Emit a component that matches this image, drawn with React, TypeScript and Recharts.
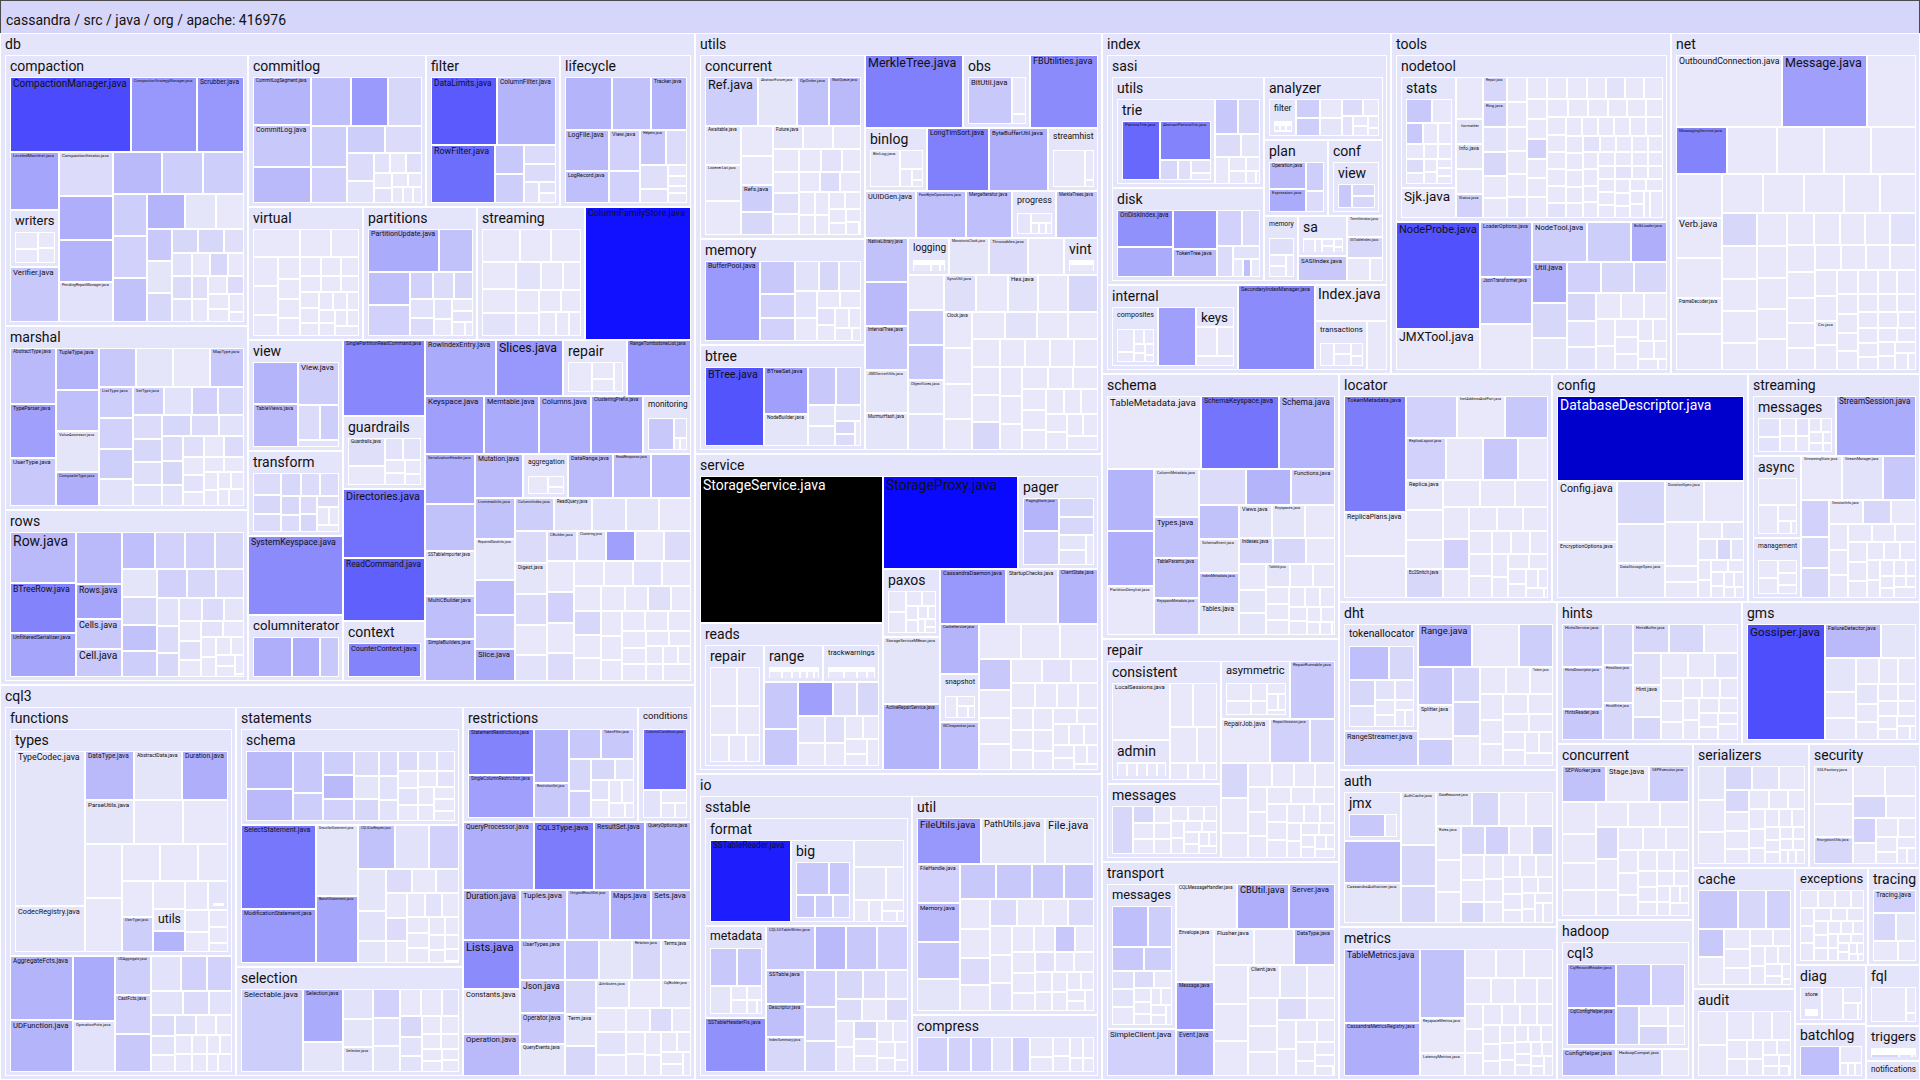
import React from "react";
import { Treemap } from "recharts";

// a file: [name, lines, heat 0..100]; a package: [name, lines, children]; a bare number: unnamed quiet file
type Node = number | [string, number, number] | [string, number, Node[]];

const totalLines = 416976;

// ---------- db ----------
const dbCompactionWriters: Node[] = [9, 7, 6, 6];
const dbCompaction: Node[] = [
  ["CompactionManager.java", 878, 54], ["CompactionStrategyManager.java", 480, 28], ["Scrubber.java", 330, 28],
  ["LeveledManifest.java", 273, 23], ["writers", 268, dbCompactionWriters], ["Verifier.java", 259, 11],
  ["CompactionIterator.java", 228, 4], ["", 228, 20], ["", 217, 18], ["PendingRepairManager.java", 217, 2],
  ["", 198, 16], ["", 168, 9], ["", 163, 9], ["", 139, 9], ["", 139, 8], ["", 139, 13], ["", 130, 18],
  ["", 104, 1], 96, ["", 78, 11], ["", 78, 1], ["", 70, 6], ["", 60, 6], ["", 60, 6], ["", 50, 3],
  ["", 45, 2], ["", 45, 4], ["", 42, 2], 40, ["", 40, 6], 38, ["", 36, 3], 35, 33, ["", 30, 4], 30, 28, 26, 24,
];
const dbCommitlog: Node[] = [
  ["CommitLogSegment.java", 253, 18], ["CommitLog.java", 220, 11], ["", 193, 16], ["", 180, 14], ["", 167, 27],
  ["", 150, 6], ["", 135, 9], ["", 119, 8], ["", 94, 9], ["", 91, 4], ["IntervalSet.java", 70, 4], ["", 51, 2],
  ["", 30, 2], 29, ["", 28, 3], 25, ["", 23, 2], 20, 18, 16, 15, 12,
];
const dbFilter: Node[] = [
  ["DataLimits.java", 429, 49], ["ColumnFilter.java", 383, 18], ["RowFilter.java", 354, 42], ["", 81, 11], ["", 81, 9],
  ["", 58, 4], ["", 55, 4], ["", 30, 2], ["", 18, 2], 17,
];
const dbLifecycle: Node[] = [
  ["", 225, 18], ["", 185, 13], ["Tracker.java", 170, 18], ["LogFile.java", 160, 16], ["LogRecord.java", 130, 14],
  ["View.java", 113, 8], ["", 90, 8], ["Helpers.java", 82, 11], ["", 65, 4], ["", 61, 3], ["", 35, 2], 19, 17, 12, 10,
];
const dbVirtual: Node[] = [123, 81, 76, 67, 67, 48, 45, 42, 40, 38, 37, 35, 33, 32, 30, 29, 28, 27, 25, 24, 23, 22, 20, 19, 18, 17, 16];
const dbPartitions: Node[] = [
  ["PartitionUpdate.java", 297, 21], ["", 138, 13], ["", 134, 14], ["", 126, 8], ["", 61, 8], ["", 56, 4], ["", 50, 6],
  ["", 45, 2], ["", 40, 4], ["", 35, 2], 30, 25, ["", 22, 2], 18, 15,
];
const dbStreaming: Node[] = [115, 93, 90, 84, 75, ["", 72, 2], ["", 63, 2], 55, 50, 48, 48, 44, 40, 38, 28, 20];
const dbView: Node[] = [["", 172, 18], ["TableViews.java", 172, 16], ["View.java", 160, 9], ["ViewBuilder.java", 70, 4], ["", 60, 9], ["", 29, 2]];
const dbTransform: Node[] = [["", 60, 4], ["", 50, 6], ["", 48, 4], ["", 45, 6], ["", 42, 4], ["", 40, 4], ["", 35, 6], ["", 32, 4], ["", 30, 4], ["", 28, 6], ["", 24, 4], 20, 18, 15];
const dbColumniterator: Node[] = [["", 150, 20], ["", 108, 20], ["", 73, 11]];
const dbGuardrails: Node[] = [["Guardrails.java", 92, 3], 60, ["", 35, 2], ["", 33, 2], 22, 21, 19, 18];
const dbContext: Node[] = [["CounterContext.java", 169, 35]];
const dbRepair: Node[] = [60, 30, 25, 20];
const dbMonitoring: Node[] = [["", 87, 11], ["", 27, 3], 8, 7];
const dbAggregation: Node[] = [30, 15, 10];
const dbMarshal: Node[] = [
  ["AbstractType.java", 220, 16], ["TypeParser.java", 212, 25], ["UserType.java", 196, 11], ["TupleType.java", 156, 18],
  ["", 152, 14], ["ValueAccessor.java", 152, 1], ["CompositeType.java", 125, 20], ["", 122, 11], ["", 122, 1], 122,
  ["MapType.java", 112, 11], ["ListType.java", 90, 9], ["", 90, 8], ["", 87, 9], ["", 78, 2], ["SetType.java", 74, 8],
  ["", 68, 2], ["", 62, 8], ["", 60, 6], ["", 60, 4], ["", 58, 6], ["", 56, 3], ["", 54, 2], ["", 52, 6], ["", 50, 4],
  ["", 48, 2], ["", 45, 4], ["", 43, 6], ["", 40, 2], ["", 38, 3], 36, ["", 34, 4], 32, ["", 30, 2], 28, 26, 24, 22, 20, 19, 18, 16, 15,
];
const dbRows: Node[] = [
  ["Row.java", 310, 16], ["BTreeRow.java", 304, 35], ["UnfilteredSerializer.java", 260, 23], ["", 220, 16],
  ["Rows.java", 150, 23], ["Cells.java", 128, 11], ["Cell.java", 119, 11], ["", 112, 14], ["", 102, 8], ["", 102, 8],
  ["", 95, 6], ["", 90, 1], ["", 90, 6], ["", 83, 13], ["", 80, 9], ["", 80, 8], ["", 78, 6], ["", 75, 4],
  ["", 56, 2], ["", 54, 4], ["", 50, 6], ["", 48, 2], ["", 46, 4], ["", 43, 1], 40, ["", 38, 3], 36, ["", 33, 2], 30, 28, 26, 24, 22, 20, 18, 16, 14,
];
const db: Node[] = [
  ["compaction", 6370, dbCompaction], ["marshal", 4320, dbMarshal], ["rows", 4060, dbRows],
  ["commitlog", 2620, dbCommitlog], ["filter", 1980, dbFilter], ["lifecycle", 1910, dbLifecycle],
  ["virtual", 1475, dbVirtual], ["partitions", 1465, dbPartitions], ["streaming", 1390, dbStreaming], ["ColumnFamilyStore.java", 1380, 74],
  ["view", 1020, dbView], ["transform", 780, dbTransform], ["SystemKeyspace.java", 730, 32], ["columniterator", 620, dbColumniterator],
  ["SinglePartitionReadCommand.java", 600, 33], ["guardrails", 580, dbGuardrails], ["Directories.java", 550, 41],
  ["ReadCommand.java", 500, 47], ["context", 490, dbContext],
  ["RowIndexEntry.java", 384, 21], ["Slices.java", 365, 28], ["repair", 347, dbRepair], ["RangeTombstoneList.java", 340, 28],
  ["Keyspace.java", 334, 25], ["Memtable.java", 311, 21], ["Columns.java", 290, 20], ["ClusteringPrefix.java", 290, 23],
  ["monitoring", 260, dbMonitoring], ["SerializationHeader.java", 240, 20],
  ["", 230, 13], ["SSTableImporter.java", 216, 1], ["MultiCBuilder.java", 206, 14], ["SimpleBuilders.java", 206, 16],
  ["Mutation.java", 206, 16], ["aggregation", 190, dbAggregation], ["DataRange.java", 190, 16], ["ReadResponse.java", 163, 14],
  ["", 163, 14], ["LivenessInfo.java", 160, 13], ["RepairedDataInfo.java", 160, 1], ["", 137, 14], ["", 130, 9],
  ["Slice.java", 130, 21], ["ColumnIndex.java", 126, 9], ["ReadQuery.java", 120, 2], ["", 110, 2], ["", 105, 1], 100,
  ["", 100, 4], ["Digest.java", 95, 1], ["", 95, 4], 92, ["", 90, 2], ["CBuilder.java", 88, 4], ["Clustering.java", 85, 2],
  ["", 85, 25], 85, ["", 82, 4], 80, ["", 80, 8], 78, ["", 75, 4], 72, 70, ["", 70, 2], 68, 65, ["", 62, 6], 60, 60, 58,
  55, ["", 55, 3], 52, 50, 48, 46, 45, 44, 42, 40, 38, 36, 34, 32, 30, 28, 26, 24, 22,
];

// ---------- cql3 ----------
const cql3TypesUtils: Node[] = [10];
const cql3TypesExceptions: Node[] = [3, 3, 3, 3];
const cql3Types: Node[] = [
  ["TypeCodec.java", 1010, 1], ["CodecRegistry.java", 295, 1], ["DataType.java", 225, 16], ["AbstractData.java", 220, 1],
  ["Duration.java", 212, 20], ["ParseUtils.java", 202, 1], 200, 190, 187, 187, 130, 130, 105, 105, ["UserType.java", 102, 9],
  84, ["utils", 65, cql3TypesUtils], ["", 62, 18], 62, ["exceptions", 54, cql3TypesExceptions], 50, 42, 30, 28, 8,
];
const cql3Functions: Node[] = [
  ["types", 4884, cql3Types], ["AggregateFcts.java", 390, 18], ["UDFunction.java", 312, 18], ["", 264, 21],
  ["OperationFcts.java", 204, 2], ["UDAggregate.java", 137, 9], ["CastFcts.java", 137, 8], ["", 130, 11], ["", 102, 2],
  ["", 88, 8], ["", 88, 8], ["", 75, 2], ["", 60, 4], ["", 50, 2], ["", 48, 4], ["", 45, 2], 42, ["", 40, 3], 38, 35, 32, 30, 28, 26, 24, 22, 20, 18,
];
const cql3StatementsSchema: Node[] = [
  ["", 150, 16], ["", 125, 16], ["", 106, 11], ["", 73, 9], ["", 64, 9], ["", 62, 16], ["", 56, 8], ["", 53, 4], ["", 48, 1],
  ["", 44, 6], ["", 40, 4], ["", 38, 2], ["", 36, 2], ["", 34, 4], ["", 32, 2], ["", 30, 2], 29, ["", 28, 2], 27, 26, ["", 25, 2], 24, 23, 22, 21, 20,
];
const cql3Statements: Node[] = [
  ["schema", 1910, cql3StatementsSchema], ["SelectStatement.java", 573, 39], ["ModificationStatement.java", 380, 27],
  ["DescribeStatement.java", 274, 1], ["BatchStatement.java", 250, 23], ["CQL3CasRequest.java", 147, 13],
  ["RequestValidations.java", 136, 2], ["", 119, 8], ["", 108, 1], ["", 76, 2], ["", 57, 1], ["", 56, 4], 52, ["", 50, 2],
  48, ["", 45, 4], 42, 40, ["", 38, 2], 35, 33, 30, 28, 26, 24, 22, 20, 18, 16, 14,
];
const cql3Selection: Node[] = [
  ["Selectable.java", 420, 9], ["Selection.java", 175, 21], ["", 95, 1], ["", 73, 2], ["", 70, 1], ["Selector.java", 65, 2],
  ["", 65, 8], ["", 62, 2], ["", 60, 1], 46, 46, ["", 40, 2], ["", 38, 6], ["", 34, 2], ["", 30, 2], 28, 26, 24, 22, 20, 18, 16, 14,
];
const cql3Restrictions: Node[] = [
  ["StatementRestrictions.java", 260, 35], ["SingleColumnRestriction.java", 240, 25], ["", 161, 18], ["RestrictionSet.java", 102, 11],
  ["", 82, 11], ["TokenFilter.java", 82, 11], ["", 60, 6], ["", 50, 8], ["", 43, 6], ["", 34, 2], ["", 31, 2], 27, 25, 23, 21, 18,
];
const cql3Conditions: Node[] = [["ColumnCondition.java", 240, 41], ["", 44, 2], 30, 19, 15];
const cql3: Node[] = [
  ["functions", 8150, cql3Functions], ["statements", 5650, cql3Statements], ["selection", 2360, cql3Selection],
  ["restrictions", 1930, cql3Restrictions], ["conditions", 570, cql3Conditions],
  ["QueryProcessor.java", 460, 20], ["CQL3Type.java", 390, 37], ["ResultSet.java", 330, 25], ["QueryOptions.java", 300, 18],
  ["Duration.java", 275, 20], ["Lists.java", 265, 32], ["Constants.java", 244, 1], ["Operation.java", 233, 16],
  ["Tuples.java", 225, 14], ["UntypedResultSet.java", 207, 13], ["Maps.java", 198, 20], ["Sets.java", 180, 16],
  ["UserTypes.java", 172, 11], ["Json.java", 144, 13], ["Operator.java", 135, 11], ["QueryEvents.java", 133, 1], ["", 130, 11],
  ["", 126, 1], ["Relation.java", 112, 6], ["Terms.java", 112, 2], ["", 100, 6], ["Term.java", 95, 1], ["", 90, 6],
  ["Attributes.java", 88, 1], 85, ["CqlBuilder.java", 80, 1], 70, ["", 65, 2], 60, 55, ["", 50, 4], 45, 40, 38, 35, 32, 30, 28, 26, 24, 22, 20,
];

// ---------- utils ----------
const utilsConcurrent: Node[] = [
  ["Ref.java", 245, 9], ["AbstractFuture.java", 178, 1], ["OpOrder.java", 149, 13], ["WaitQueue.java", 144, 16],
  ["Awaitable.java", 133, 1], ["ListenerList.java", 122, 1], 112, 89, 86, ["Refs.java", 82, 9], ["", 70, 6],
  ["Future.java", 65, 1], 65, 57, 57, 52, ["", 52, 3], 52, 47, ["", 45, 2], 43, 40, ["", 38, 4], 36, 34, 32, 30, 28, 26, 24, 22, 20, 18, 16, 14,
];
const utilsMemory: Node[] = [
  ["BufferPool.java", 447, 27], ["", 119, 11], ["", 86, 8], ["", 76, 8], ["", 74, 2], ["", 62, 6], ["", 62, 2], ["", 60, 2], 50,
  40, 35, ["", 32, 2], 30, 28, 25, 22, 20,
];
const utilsBtree: Node[] = [
  ["BTree.java", 426, 51], ["BTreeSet.java", 189, 25], ["NodeBuilder.java", 130, 1], ["", 98, 11], ["", 84, 8],
  ["", 52, 1], ["", 50, 1], ["", 38, 1], ["", 24, 6], ["", 22, 4], 15,
];
const utilsObs: Node[] = [["BitUtil.java", 193, 11], 48, 15];
const utilsBinlog: Node[] = [["BinLog.java", 102, 0], 40, 19, 11, 6];
const utilsStreamhist: Node[] = [131, 30, 8];
const utilsProgressJmx: Node[] = [2, 1];
const utilsProgress: Node[] = [["jmx", 40, utilsProgressJmx], 28, 12, 10, 8];
const utilsLogging: Node[] = [20, 10, 6];
const utilsVint: Node[] = [10];
const utils: Node[] = [
  ["concurrent", 2980, utilsConcurrent], ["memory", 1720, utilsMemory], ["btree", 1700, utilsBtree],
  ["MerkleTree.java", 705, 36], ["obs", 480, utilsObs], ["FBUtilities.java", 475, 32], ["binlog", 385, utilsBinlog],
  ["LongTimSort.java", 384, 36], ["ByteBufferUtil.java", 366, 20], ["streamhist", 316, utilsStreamhist],
  ["UUIDGen.java", 235, 6], ["FastByteOperations.java", 230, 14], ["MergeIterator.java", 210, 14], ["progress", 202, utilsProgress],
  ["MerkleTrees.java", 202, 11], ["NativeLibrary.java", 184, 13], ["", 184, 16], ["IntervalTree.java", 184, 11],
  ["JMXServerUtils.java", 180, 1], ["MurmurHash.java", 170, 1], ["logging", 147, utilsLogging], ["MonotonicClock.java", 144, 1],
  ["Throwables.java", 143, 4], ["vint", 126, utilsVint], ["", 123, 9], ["", 123, 11], ["ObjectSizes.java", 120, 1],
  ["SyncUtil.java", 115, 3], ["Hex.java", 110, 1], ["Clock.java", 100, 0],
  130, 125, ["", 120, 2], 115, 110, ["", 105, 6], 100, 95, 90, 88, ["", 85, 2], 82, 80, 78, 76, 74, ["", 72, 6], 70, 68, 66,
  64, 62, 60, 58, 56, 54, 52, 50, 48, 46, 44, 42, 40, 38, 36, 34, 32, 30,
];

// ---------- service ----------
const serviceReadsRepair: Node[] = [80, 70, 60, 50, 40, 35, 30];
const serviceReadsRange: Node[] = [40, 30, 25, 20, 20, 15];
const serviceReadsTrackwarnings: Node[] = [30, 25, 20, 15];
const serviceReads: Node[] = [
  ["repair", 780, serviceReadsRepair], ["range", 240, serviceReadsRange], ["trackwarnings", 225, serviceReadsTrackwarnings],
  ["", 176, 11], ["", 140, 11], ["", 130, 25], ["", 90, 4], ["", 85, 6], ["", 80, 2], 70, ["", 60, 3], 50, 45, 40, 35, 30, 25,
];
const servicePager: Node[] = [["PagingState.java", 116, 18], ["", 116, 8], ["", 63, 6], ["", 60, 6], ["", 40, 1], ["", 37, 2], 27];
const servicePaxos: Node[] = [30, 30, 20, 17, 14, 12, 10, 9, 8, 7, 6];
const serviceSnapshot: Node[] = [30, 20, 15, 10];
const service: Node[] = [
  ["StorageService.java", 2720, 100], ["reads", 2700, serviceReads], ["StorageProxy.java", 1270, 77], ["pager", 740, servicePager],
  ["paxos", 390, servicePaxos], ["StorageServiceMBean.java", 385, 1], ["ActiveRepairService.java", 378, 18],
  ["CassandraDaemon.java", 366, 28], ["StartupChecks.java", 288, 3], ["ClientState.java", 228, 18], ["CacheService.java", 197, 18],
  ["snapshot", 190, serviceSnapshot], ["GCInspector.java", 185, 14],
  148, 137, 137, ["", 99, 11], 90, 85, 80, 75, ["", 70, 2], 65, 60, 56, 52, 50, 48, 45, 45, 45, 42, 40, 38, 36, 34, 32, 30, 28, 26, 24, 22, 20,
];

// ---------- io ----------
const ioFormatBig: Node[] = [["", 90, 11], ["", 56, 11], ["", 37, 11], ["", 34, 9], ["", 34, 6]];
const ioFormat: Node[] = [
  ["SSTableReader.java", 590, 70], ["big", 460, ioFormatBig], ["", 120, 1], ["", 95, 1], 53, 29, 25, 22, 15, 11,
];
const ioMetadata: Node[] = [["", 96, 11], ["", 93, 11], ["", 56, 1], 22, 20, 20, 14, 6];
const ioSstable: Node[] = [
  ["format", 2110, ioFormat], ["metadata", 540, ioMetadata], ["SSTableHeaderFix.java", 323, 30], ["CQLSSTableWriter.java", 207, 11],
  ["", 132, 16], ["", 132, 11], ["", 132, 8], ["SSTable.java", 129, 13], ["Descriptor.java", 125, 14], ["IndexSummary.java", 125, 6],
  ["", 111, 8], ["", 102, 6], ["", 87, 6], ["", 75, 6], ["", 65, 4], ["", 60, 2], ["", 56, 4], 50, ["", 48, 4], 45, 42, ["", 40, 6], 38, 35, 32, 30, 28, 25, 23, 20,
];
const ioUtil: Node[] = [
  ["FileUtils.java", 258, 28], ["PathUtils.java", 258, 1], ["File.java", 206, 1], ["FileHandle.java", 148, 8], ["Memory.java", 148, 16],
  ["", 140, 11], ["", 120, 1], ["", 112, 11], ["", 112, 11], ["", 99, 11], ["", 92, 11],
  80, 76, ["", 70, 4], 68, ["", 65, 4], 62, 60, ["", 58, 4], 56, 54, ["", 52, 2], 50, 48, ["", 46, 11], 44, 42, 40, 38, ["", 36, 2], 34, 32, 30, 28, 26, 24, 22, 20, 18, 16, 14,
];
const ioCompress: Node[] = [["", 120, 8], ["", 90, 8], ["", 80, 8], ["", 75, 2], ["", 70, 8], 50, 40, 35, 30, 30, 25, 20, 15];
const io: Node[] = [["sstable", 5900, ioSstable], ["util", 4050, ioUtil], ["compress", 1120, ioCompress]];

// ---------- index ----------
const sasiTrie: Node[] = [["PatriciaTrie.java", 197, 44], ["AbstractPatriciaTrie.java", 174, 35], ["", 32, 6], ["", 23, 3], ["", 23, 2], 12];
const sasiUtils: Node[] = [["trie", 780, sasiTrie], ["", 76, 11], ["", 73, 6], ["", 57, 4], ["", 42, 1], 35, 22, 22, 19, 12, 6];
const sasiDisk: Node[] = [
  ["OnDiskIndex.java", 194, 30], ["", 162, 21], ["", 160, 27], ["TokenTree.java", 118, 16], ["", 86, 8], ["", 62, 4],
  ["", 47, 4], ["", 34, 2], 17, ["", 13, 14], 11,
];
const sasiAnalyzerFilter: Node[] = [1, 1, 1, 1, 1, 1];
const sasiAnalyzer: Node[] = [
  ["filter", 95, sasiAnalyzerFilter], ["", 45, 9], ["", 40, 9], 40, ["", 38, 1], ["", 34, 4], 26, ["", 22, 2], 15, 14, 13, 12,
];
const sasiPlan: Node[] = [["Operation.java", 93, 16], ["Expression.java", 82, 21], ["", 48, 9], ["", 34, 4]];
const sasiConfView: Node[] = [["", 41, 11], ["", 34, 6], ["", 34, 6]];
const sasiConf: Node[] = [["view", 225, sasiConfView]];
const sasiMemory: Node[] = [["", 50, 3], 22, 21, 20];
const sasiSa: Node[] = [20, 12, 10, 9, 8, 6];
const indexSasi: Node[] = [
  ["utils", 1660, sasiUtils], ["disk", 1390, sasiDisk], ["analyzer", 740, sasiAnalyzer], ["plan", 480, sasiPlan],
  ["conf", 410, sasiConf], ["memory", 220, sasiMemory], ["sa", 193, sasiSa], ["SASIIndex.java", 122, 11],
  ["TermIterator.java", 74, 1], ["SSTableIndex.java", 74, 6], 52, 29, 10,
];
const indexComposites: Node[] = [40, 15, 15, 15, 10, 10, 10, 8];
const indexKeys: Node[] = [20, 10];
const indexInternal: Node[] = [["composites", 255, indexComposites], ["", 210, 25], ["keys", 70, indexKeys], 56, 46, 38];
const indexTransactions: Node[] = [20, 12, 12, 10, 8];
const index: Node[] = [
  ["sasi", 6440, indexSasi], ["internal", 1110, indexInternal], ["SecondaryIndexManager.java", 650, 32],
  ["Index.java", 260, 0], ["transactions", 255, indexTransactions], 90,
];

// ---------- tools ----------
const nodetoolStats: Node[] = [
  ["TableStatsHolder.java", 90, 11], 70, ["", 50, 11], 45, 40, 38, ["", 35, 4], 32, 30, 28, 25, 22, 20, 18, 15,
];
const nodetoolFormatter: Node[] = [10];
const toolsNodetool: Node[] = [
  ["stats", 560, nodetoolStats], ["Sjk.java", 153, 0], 105, ["formatter", 63, nodetoolFormatter], ["Info.java", 63, 1], 63,
  ["Status.java", 60, 8], ["Repair.java", 55, 6], ["Ring.java", 55, 8], ["", 55, 2], ["", 53, 6], 48, 40, ["", 38, 2],
  48, 46, 45, 44, 43, 42, ["", 41, 2], 40, 40, 39, 38, 38, 37, 36, ["", 36, 8], 35, 35, 34, 34, 33, 33, 32, 32, 31, 31, 30,
  30, 30, 29, ["", 29, 2], 28, 28, 28, 27, 27, 27, 26, 26, 26, 25, 25, ["", 25, 2], 24, 24, 24, 23, 23, 23, 22, 22, 22, 22,
  21, 21, 21, 20, 20, 20, ["", 20, 2], 19, 19, 19, 18, 18, 18, 17, 17, 17, 16, 16,
];
const tools: Node[] = [
  ["nodetool", 4480, toolsNodetool], ["NodeProbe.java", 890, 52], ["JMXTool.java", 344, 0], ["LoaderOptions.java", 286, 18],
  ["JsonTransformer.java", 244, 14], ["", 229, 0], ["NodeTool.java", 218, 9], ["", 176, 9], ["BulkLoader.java", 147, 20],
  ["Util.java", 144, 20], ["", 120, 6], ["", 109, 1], ["", 105, 8], ["", 100, 6], ["", 100, 6], ["", 80, 6], ["", 75, 2],
  ["", 70, 2], 65, 60, 55, 50, 46, 42, 38, 35, 32, 30, 28, 25, 22, 20,
];

// ---------- net ----------
const net: Node[] = [
  ["OutboundConnection.java", 750, 0], ["Message.java", 605, 25], 346, ["MessagingService.java", 235, 35], 230, 216, 216, 210,
  201, ["Verb.java", 182, 0], 179, ["FrameDecoder.java", 164, 0], 163, 156, 156, 152, 140, 133, ["", 114, 6], 114, 110, 110,
  100, 98, 95, 92, 90, 88, 85, 82, 80, 78, ["", 76, 2], 74, 72, 70, 68, 66, 64, 62, 60, 58, 56, 54, ["Crc.java", 53, 0], 52,
  50, 48, 46, 44, 42, 40, 38, 36, 35, 34, 33, 32, 31, 30, 29, 28, 27, 26, 25, 24, 23, 22, 21, 20,
];

// ---------- schema ----------
const schema: Node[] = [
  ["TableMetadata.java", 630, 0], ["SchemaKeyspace.java", 525, 40], ["Schema.java", 385, 18], ["", 270, 18], ["", 236, 20],
  ["PartitionDenylist.java", 206, 0], ["ColumnMetadata.java", 197, 1], ["Types.java", 168, 13], ["TableParams.java", 164, 13],
  ["KeyspaceMetadata.java", 156, 8], ["", 155, 4], ["", 150, 18], ["Functions.java", 146, 8], ["", 126, 13],
  ["SchemaEvent.java", 126, 1], ["IndexMetadata.java", 115, 13], ["Tables.java", 111, 1], ["Views.java", 99, 1],
  ["Keyspaces.java", 99, 1], 90, ["Indexes.java", 82, 6], ["", 80, 6], 70, 64, ["", 58, 1], ["", 52, 1], ["TableId.java", 50, 1],
  48, 46, 36, 34, 32, 30, ["Diff.java", 28, 0], 26, 24, 22, 20, 18, 16, 14, 12,
];

// ---------- repair ----------
const repairAdmin: Node[] = [1, 1, 1, 1, 1];
const repairConsistent: Node[] = [["LocalSessions.java", 290, 0], ["admin", 205, repairAdmin], 90, 90, 85, 62, 27, 24, 22];
const repairAsymmetric: Node[] = [40, 30, 25, 20, 18, 15, 12, 8];
const repairMessages: Node[] = [["", 95, 6], ["", 33, 6], 32, 28, 26, 25, 24, 23, 22, 21, 20, 19, 18, 17, 16, 15, 13, 11, 9];
const topRepair: Node[] = [
  ["consistent", 1310, repairConsistent], ["messages", 800, repairMessages], ["asymmetric", 375, repairAsymmetric],
  ["RepairRunnable.java", 246, 11], ["RepairJob.java", 202, 0], ["RepairSession.java", 163, 8], ["", 103, 6], ["", 89, 6],
  89, 60, 53, 50, 48, 46, 44, 42, 40, 38, 36, 35, 34, 33, 32, 30, 28, 26, 24, 22, 20, 18, 16, 15, 14, 13, 12,
];

// ---------- transport ----------
const transportMessages: Node[] = [
  ["", 126, 14], ["", 85, 9], ["", 66, 11], ["", 60, 9], ["", 35, 3], ["", 34, 2], 34, ["", 30, 4], 27, 20, 18, 15, 15, 15, 13, 12, 10,
];
const transport: Node[] = [
  ["messages", 990, transportMessages], ["SimpleClient.java", 322, 8], ["CQLMessageHandler.java", 274, 0], ["CBUtil.java", 230, 20],
  ["Server.java", 211, 20], ["Envelope.java", 200, 0], ["Message.java", 180, 25], ["Event.java", 168, 18], ["Flusher.java", 144, 0],
  144, ["DataType.java", 140, 16], 133, 126, 110, ["Client.java", 105, 0], ["Dispatcher.java", 90, 1], 90, 80, 75, 70,
  ["", 65, 4], 60, 55, 50, 45, 40, 35, 30, 26, 22, 18, 15,
];

// ---------- locator ----------
const locator: Node[] = [
  ["TokenMetadata.java", 644, 37], ["ReplicaPlans.java", 245, 0], 222, ["", 191, 8], ["InetAddressAndPort.java", 180, 0],
  ["", 156, 11], ["ReplicaLayout.java", 150, 8], 140, ["", 130, 11], 110, ["Replica.java", 100, 0], 100, 95, ["Ec2Snitch.java", 90, 6],
  90, 85, 80, 75, ["", 70, 8], 65, 60, 56, 52, 48, 45, 42, 40, 38, 35, 33, 30, 28, 26, 24, 22, 20, 18, 16, 14, 12,
];

// ---------- config ----------
const config: Node[] = [
  ["DatabaseDescriptor.java", 1540, 84], ["Config.java", 354, 0], ["EncryptionOptions.java", 324, 1], ["", 200, 6], ["", 180, 1],
  ["DataStorageSpec.java", 167, 1], ["DurationSpec.java", 156, 1], 156, 140, 51, 50, 40, ["", 38, 1], ["", 38, 1], ["", 29, 6],
  ["", 26, 1], 25, 23, 20, 19, 18, 16, 15, 14, 12, 10,
];

// ---------- streaming ----------
const streamingMessages: Node[] = [["", 50, 2], ["", 40, 2], 35, 30, ["", 28, 2], 26, 20, 20, 18, 15, 12, 10];
const streamingAsync: Node[] = [80, 45, 23, 13, 8];
const streamingManagement: Node[] = [38, 35, 27, 24, 17];
const topStreaming: Node[] = [
  ["messages", 454, streamingMessages], ["StreamSession.java", 442, 21], ["async", 360, streamingAsync],
  ["management", 265, streamingManagement], ["StreamingState.java", 164, 0], ["StreamManager.java", 164, 2], ["", 135, 11],
  ["", 96, 8], ["", 80, 6], ["", 78, 6], ["SessionInfo.java", 75, 0], ["", 62, 6], 53, 46, 44, 42, 40, 38, 36, 34, 33, 30,
  28, 26, 25, 24, 22, 20, 18, 16, 15, 14, 12, 11, 10,
];

// ---------- dht ----------
const dhtTokenallocator: Node[] = [["", 140, 14], ["", 84, 6], ["", 70, 6], ["", 55, 2], ["", 40, 2], ["", 40, 2], 30, 25, 20, 18, 15];
const dht: Node[] = [
  ["tokenallocator", 795, dhtTokenallocator], ["RangeStreamer.java", 266, 9], ["Range.java", 234, 21], 203, ["", 150, 9],
  ["", 133, 11], ["Splitter.java", 119, 0], ["", 100, 9], ["", 95, 6], ["", 92, 6], 80, 70, 65, ["Token.java", 60, 0], 60,
  55, 52, 50, 48, 47, 45, 40, 35, 30, 28, 26,
];

// ---------- auth ----------
const authJmx: Node[] = [["", 62, 11], 20];
const auth: Node[] = [
  ["jmx", 245, authJmx], ["", 209, 16], ["CassandraAuthorizer.java", 199, 1], ["AuthCache.java", 160, 1], ["", 124, 6],
  ["", 120, 6], ["DataResource.java", 108, 1], ["", 81, 6], 81, 78, ["Roles.java", 75, 0], 70, 65, ["", 60, 6], ["", 60, 8],
  58, ["", 52, 6], 50, 45, ["", 42, 6], 40, 38, 35, 33, 31, 30, 28, 26, 24, 22, 20, 18, 16, 15, 14, 12,
];

// ---------- metrics ----------
const metrics: Node[] = [
  ["TableMetrics.java", 497, 18], ["CassandraMetricsRegistry.java", 357, 20], ["", 277, 13], ["KeyspaceMetrics.java", 139, 0],
  ["LatencyMetrics.java", 97, 0], 80, 73, 73, 60, 55, 50, 42, 40, 38, 38, 36, 34, 32, 30, 28, 26, 25, 24, 23, 22, 20, 19,
  18, 17, 16, 15, 14, 13, 12, 11, 10,
];

// ---------- hints / gms / concurrent ----------
const hints: Node[] = [
  ["HintsService.java", 172, 8], ["HintsDescriptor.java", 168, 8], ["HintsReader.java", 126, 11], ["", 120, 6],
  ["HintsStore.java", 111, 6], ["HintsWriter.java", 108, 6], ["HintsBuffer.java", 102, 6], ["", 100, 6], 100, ["", 87, 3],
  ["Hint.java", 87, 1], ["", 67, 6], 67, 65, ["", 55, 2], 50, 45, 40, 38, 36, 36, 35, 32, 30, 28, 26, 24, 22, 20,
];
const gms: Node[] = [
  ["Gossiper.java", 912, 53], ["FailureDetector.java", 191, 16], ["", 119, 1], ["", 107, 1], 82, 70, 60, 50, 45, ["", 44, 1],
  40, 38, 35, 32, 30, 28, 25, 22, 20, 18, 16,
];
const topConcurrent: Node[] = [
  ["SEPWorker.java", 152, 13], ["Stage.java", 150, 0], ["SEPExecutor.java", 145, 9], 106, 96, 90, 80, 78, 76, 70, ["", 68, 6],
  65, 60, 56, 52, 48, 45, 42, 40, 38, 35, 32, 30, 28, 26, 24, 22, 20, 18, 16, 15, 14,
];

// ---------- hadoop ----------
const hadoopCql3: Node[] = [
  ["CqlRecordReader.java", 184, 23], ["CqlConfigHelper.java", 156, 23], ["", 125, 14], ["", 125, 8], ["", 76, 9], 50,
  ["", 48, 6], 30, 29,
];
const hadoop: Node[] = [["cql3", 1290, hadoopCql3], ["ConfigHelper.java", 140, 16], ["HadoopCompat.java", 119, 6], 73];

// ---------- small packages ----------
const serializers: Node[] = [
  ["", 86, 1], 81, 78, ["", 62, 6], ["", 62, 2], 60, ["", 50, 6], 42, 40, 38, 36, 34, 32, 30, 28, 26, 24, 22, 20, 18, 17, 16,
  15, 14, 13, 12, 11, 10, 9,
];
const security: Node[] = [
  ["SSLFactory.java", 144, 0], 124, ["EncryptionUtils.java", 100, 6], 93, 87, ["", 70, 6], 65, ["", 56, 8], 48, 40, 35, 30, 25, 20, 16, 12,
];
const cache: Node[] = [["", 140, 11], ["", 99, 6], ["", 87, 8], ["", 65, 11], 65, 46, 45, 40, 35, 30, 27, 25, 22, 20, 18, 15, 12, 10];
const audit: Node[] = [115, 100, 86, 65, 60, 45, 40, 35, 30, 25, 22, 20, 18, 15, 12, 10];
const exceptions: Node[] = [35, 32, 30, 28, 27, 26, 25, 24, 23, 22, 21, 20, 19, 18, 17, 16, 15, 14, 13, 12, 11, 10, 9, 8, 7, 6];
const tracing: Node[] = [["Tracing.java", 95, 8], ["", 60, 6], ["", 56, 1], 47, 32];
const diagStore: Node[] = [3, 1];
const diag: Node[] = [["store", 72, diagStore], 69, 30, 25, 10];
const batchlog: Node[] = [["", 106, 14], 33, 9, 8, 7];
const fql: Node[] = [103, 22, 6];
const triggers: Node[] = [["", 30, 6], ["", 14, 2], 5];
const notifications: Node[] = [1, 1, 1, 1, 1, 1, 1, 1, 1, 1];

// ---------- org/apache ----------
const apache: Node[] = [
  ["db", 45310, db], ["cql3", 27420, cql3], ["utils", 17130, utils], ["service", 13020, service], ["io", 12410, io],
  ["index", 9860, index], ["tools", 9550, tools], ["net", 8460, net], ["schema", 6280, schema], ["repair", 5290, topRepair],
  ["transport", 5140, transport], ["locator", 4850, locator], ["config", 4460, config], ["streaming", 3920, topStreaming],
  ["dht", 3670, dht], ["auth", 3430, auth], ["metrics", 3320, metrics], ["hints", 2620, hints], ["gms", 2520, gms],
  ["concurrent", 2390, topConcurrent], ["hadoop", 2190, hadoop], ["serializers", 1440, serializers], ["security", 1370, security],
  ["cache", 1230, cache], ["audit", 940, audit], ["exceptions", 710, exceptions], ["tracing", 505, tracing], ["diag", 420, diag],
  ["batchlog", 400, batchlog], ["fql", 330, fql], ["triggers", 190, triggers], ["notifications", 190, notifications],
];

// ---------- drawing ----------
const FONT = "Roboto, 'Noto Sans', Arial, sans-serif";
const GROUP_BG = "#e4e4fa";
const HEADER = 22;
const RATIO = 1;

type Item = { name: string; size: number; heat: number; items?: Node[] };

function toItems(list: Node[]): Item[] {
  return list
    .map((n) => {
      if (typeof n === "number") return { name: "", size: n, heat: 0 };
      const [name, size, third] = n;
      if (Array.isArray(third)) return { name, size, heat: 0, items: third };
      return { name, size, heat: third as number };
    })
    .sort((a, b) => b.size - a.size);
}

// lavender -> blue -> black
function shade(heat: number): string {
  const v = heat / 100;
  if (v <= 0.8) {
    const t = v / 0.8;
    const c = Math.round(232 * (1 - t));
    return `rgb(${c},${c},${Math.round(250 + 5 * t)})`;
  }
  const t = (v - 0.8) / 0.2;
  return `rgb(0,0,${Math.round(255 * (1 - t))})`;
}

const CHAR_W: Record<string, number> = {
  i: 0.24, j: 0.24, l: 0.24, ".": 0.26, f: 0.35, r: 0.34, t: 0.33, I: 0.27, " ": 0.25, m: 0.88, w: 0.75, M: 0.87, W: 0.89,
};
function textEm(s: string) {
  let t = 0;
  for (const ch of s) t += CHAR_W[ch] ?? (ch >= "A" && ch <= "Z" ? 0.64 : 0.54);
  return t;
}

function renderNode(props: any): React.ReactElement | null {
  const { depth, x, y, width: w, height: h, name, heat, items } = props;
  if (depth !== 1 || !(w > 0) || !(h > 0)) return null;
  const rx = x + 1;
  const ry = y + 1;
  const rw = Math.max(0, w - 2);
  const rh = Math.max(0, h - 2);

  if (items) {
    const iw = Math.floor(w - 9);
    const ih = Math.floor(h - HEADER - 4);
    const fs = Math.min(14, (w - 9) / textEm(name), h - 6);
    return (
      <g>
        <rect x={rx} y={ry} width={rw} height={rh} fill={GROUP_BG} />
        {fs >= 4 && (
          <text x={x + 5} y={y + 4 + fs * 0.85} fontSize={fs} fontFamily={FONT} fill="#111">
            {name}
          </text>
        )}
        {iw > 2 && ih > 2 && (
          <g>
            <rect x={x + 5} y={y + HEADER} width={iw} height={ih} fill="#fff" />
            <foreignObject x={x + 5} y={y + HEADER} width={iw} height={ih}>
              <Treemap
                width={iw}
                height={ih}
                data={toItems(items)}
                dataKey="size"
                aspectRatio={RATIO}
                isAnimationActive={false}
                content={renderNode}
              />
            </foreignObject>
          </g>
        )}
      </g>
    );
  }

  const fs = name ? Math.min(14, (rw - 5) / textEm(name), rh - 2) : 0;
  return (
    <g>
      <rect x={rx} y={ry} width={rw} height={rh} fill={shade(heat)} />
      {fs >= 3 && (
        <text x={rx + 2} y={ry + fs * 0.9} fontSize={fs} fontFamily={FONT} fill={heat > 80 ? "#fff" : "#111"}>
          {name}
        </text>
      )}
    </g>
  );
}

export default function App() {
  return (
    <div style={{ position: "absolute", left: 0, top: 0, width: 1920, height: 1080, background: "#fff", fontFamily: FONT }}>
      <div
        style={{
          position: "absolute",
          left: 0,
          top: 0,
          width: 1920,
          height: 33,
          boxSizing: "border-box",
          border: "1px solid #4b4b4b",
          borderBottom: "none",
          background: "#d6d6fa",
          fontSize: 14,
          lineHeight: "16px",
          padding: "11px 0 0 5px",
          color: "#111",
        }}
      >
        cassandra / src / java / org / apache: {totalLines}
      </div>
      <div style={{ position: "absolute", left: 0, top: 33 }}>
        <Treemap
          width={1920}
          height={1047}
          data={toItems(apache)}
          dataKey="size"
          aspectRatio={RATIO}
          isAnimationActive={false}
          content={renderNode}
        />
      </div>
    </div>
  );
}
